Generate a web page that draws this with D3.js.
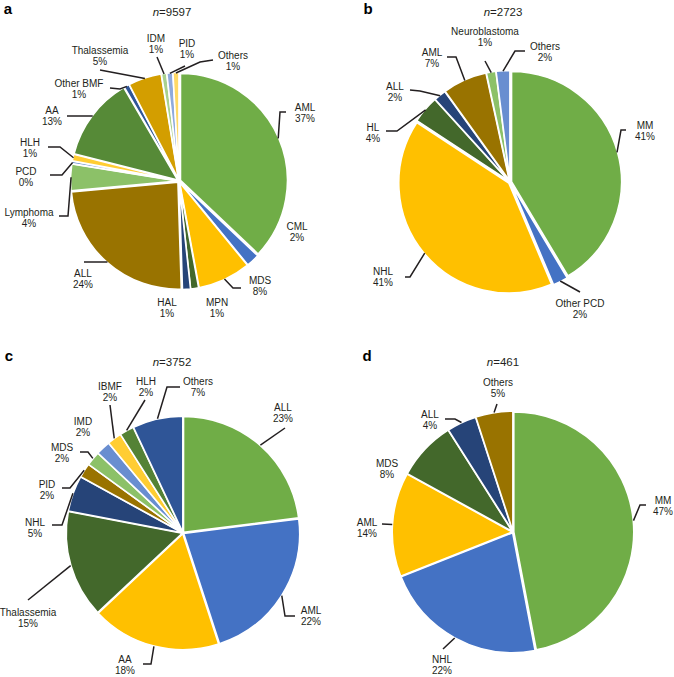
<!DOCTYPE html>
<html><head><meta charset="utf-8">
<script src="https://cdn.jsdelivr.net/npm/d3@7"></script>
<style>
html,body{margin:0;padding:0;background:#fff;}
svg text{font-family:"Liberation Sans",Arial,Helvetica,sans-serif;fill:#231f20;}
</style></head>
<body>
<svg id="chart" width="674" height="677"></svg>
<script>
// ---------- DATA ----------
const aCats = ["AML","CML","MDS","MPN","HAL","ALL","Lymphoma","PCD","HLH","AA","Other BMF","Thalassemia","IDM","PID","Others"];
const aVals = [37,2,8,1.2,1.2,24,4,0.4,1,12.6,0.8,5,0.8,0.9,0.9];
const aPct  = ["37%","2%","8%","1%","1%","24%","4%","0%","1%","13%","1%","5%","1%","1%","1%"];

const bCats = ["MM","Other PCD","NHL","HL","ALL","AML","Neuroblastoma","Others"];
const bVals = [41.3,2.2,40.5,4,1.8,6.5,1.4,2.0];
const bPct  = ["41%","2%","41%","4%","2%","7%","1%","2%"];

const cCats = ["ALL","AML","AA","Thalassemia","NHL","PID","MDS","IMD","IBMF","HLH","Others"];
const cVals = [23,22,18,15,5,2,2,2,2,2,7];
const cPct  = ["23%","22%","18%","15%","5%","2%","2%","2%","2%","2%","7%"];

const dCats = ["MM","NHL","AML","MDS","ALL","Others"];
const dVals = [47,22,14,8,4,5];
const dPct  = ["47%","22%","14%","8%","4%","5%"];

const nTotals = ["9597","2723","3752","461"];
const panelLetters = ["a","b","c","d"];

// ---------- STYLE ----------
const aColors = ["#70AD47","#4472C4","#FFC000","#43682B","#264478","#997300","#8CC168","#698ED0","#FFCD33","#568A37","#2F5597","#D39E00","#A9D18E","#8FAADC","#FFD966"];
const bColors = ["#70AD47","#4472C4","#FFC000","#43682B","#264478","#997300","#8CC168","#698ED0"];
const cColors = ["#70AD47","#4472C4","#FFC000","#43682B","#264478","#997300","#8CC168","#698ED0","#FFCD33","#548235","#2F5597"];
const dColors = ["#70AD47","#4472C4","#FFC000","#43682B","#264478","#997300"];

// ---------- LAYOUT (label text centres + leader bend points) ----------
const aLabels = [
  {x:305,y:107,pts:[[280,112],[286,112]]},
  {x:297,y:226,pts:null},
  {x:260,y:280,pts:[[233,288],[241,288]]},
  {x:217,y:302,pts:null},
  {x:167,y:302,pts:null},
  {x:83,y:273,pts:[[84,262]]},
  {x:29,y:212,pts:[[68,216],[59,216]]},
  {x:26,y:171,pts:[[62,175],[50,175]]},
  {x:30,y:142,pts:[[60,147],[48,147]]},
  {x:52,y:110,pts:[[67,116]]},
  {x:79,y:83,pts:[[120,89],[110,88]]},
  {x:100,y:50,pts:[[100,70]]},
  {x:156,y:38,pts:[[157,57]]},
  {x:187,y:43,pts:[[185,66]]},
  {x:233,y:55,pts:[[200,62],[213,60]]}
];
const bLabels = [
  {x:645,y:125,pts:[[621,130],[626,130]]},
  {x:580,y:303,pts:[[580,292]]},
  {x:383,y:271,pts:[[410,277],[405,277]]},
  {x:373,y:127,pts:[[397,131],[386,131]]},
  {x:395,y:86,pts:[[420,91],[410,90]]},
  {x:432,y:52,pts:[[456,57],[447,57]]},
  {x:485,y:31,pts:[[485,61]]},
  {x:545,y:46,pts:[[515,51],[525,51]]}
];
const cLabels = [
  {x:283,y:407,pts:[[285,428]]},
  {x:311,y:610,pts:[[285,616],[295,616]]},
  {x:125,y:659,pts:[[151,664],[143,664]]},
  {x:28,y:612,pts:[[28,600]]},
  {x:35,y:522,pts:[[62,525],[52,525]]},
  {x:47,y:484,pts:[[70,488],[62,488]]},
  {x:62,y:447,pts:[[88,452],[80,452]]},
  {x:83,y:421,pts:null},
  {x:110,y:386,pts:[[110,405]]},
  {x:146,y:381,pts:[[145,400]]},
  {x:198,y:381,pts:[[167,387],[180,387]]}
];
const dLabels = [
  {x:663,y:500,pts:[[640,505],[646,505]]},
  {x:442,y:659,pts:[[443,649]]},
  {x:367,y:522,pts:[[382,524]]},
  {x:387,y:463,pts:null},
  {x:430,y:414,pts:[[455,419],[445,419]]},
  {x:498,y:382,pts:[[497,404]]}
];

const panels = [
  {cats:aCats,vals:aVals,pct:aPct,colors:aColors,labels:aLabels,cx:179,cy:181,r:107,explode:1.6,letter:[8,14],title:[172,16]},
  {cats:bCats,vals:bVals,pct:bPct,colors:bColors,labels:bLabels,cx:510,cy:182,r:110,explode:1.6,letter:[368,14],title:[503,16]},
  {cats:cCats,vals:cVals,pct:cPct,colors:cColors,labels:cLabels,cx:183,cy:533,r:116,explode:0.8,letter:[9,361],title:[172,366]},
  {cats:dCats,vals:dVals,pct:dPct,colors:dColors,labels:dLabels,cx:513,cy:532,r:120,explode:0.8,letter:[367,361],title:[503,366]}
];

const svg = d3.select("#chart");

panels.forEach((p,pi)=>{
  const g = svg.append("g");
  const pie = d3.pie().sort(null).value(d=>d)(p.vals);
  const arc = d3.arc().innerRadius(0).outerRadius(p.r);
  const color = d3.scaleOrdinal().domain(p.cats).range(p.colors);

  g.selectAll("path.slice").data(pie).enter().append("path")
    .attr("class","slice")
    .attr("transform",d=>{
      const m=(d.startAngle+d.endAngle)/2;
      return `translate(${p.cx+p.explode*Math.sin(m)},${p.cy-p.explode*Math.cos(m)})`;
    })
    .attr("d",arc)
    .attr("fill",(d,i)=>color(p.cats[i]))
    .attr("stroke","#fff").attr("stroke-width",1.6).attr("stroke-linejoin","round");

  // leaders + labels
  pie.forEach((d,i)=>{
    const L = p.labels[i];
    if(L.pts){
      const m=(d.startAngle+d.endAngle)/2;
      const rr=p.r+1;
      const start=[p.cx+rr*Math.sin(m),p.cy-rr*Math.cos(m)];
      g.append("path")
        .attr("d",d3.line()([start].concat(L.pts)))
        .attr("fill","none").attr("stroke","#231f20").attr("stroke-width",1.5);
    }
    const t = g.append("text").attr("text-anchor","middle").attr("font-size","10px");
    t.append("tspan").attr("x",L.x).attr("y",L.y+3.6).text(p.cats[i]);
    t.append("tspan").attr("x",L.x).attr("y",L.y+15.1).text(p.pct[i]);
  });

  // title
  const tt = g.append("text").attr("x",p.title[0]).attr("y",p.title[1]).attr("text-anchor","middle").attr("font-size","11.5px");
  tt.append("tspan").attr("font-style","italic").text("n");
  tt.append("tspan").text("="+nTotals[pi]);
  // panel letter
  g.append("text").attr("x",p.letter[0]).attr("y",p.letter[1]).attr("text-anchor","middle")
    .attr("font-size","15px").attr("font-weight","bold").style("fill","#000").text(panelLetters[pi]);
});
</script>
</body></html>
